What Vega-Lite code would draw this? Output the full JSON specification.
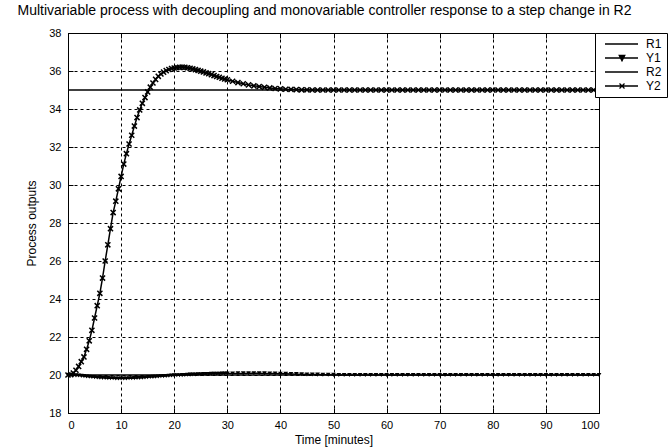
{
 "$schema": "https://vega.github.io/schema/vega-lite/v6.json",
 "width": 531, "height": 380,
 "autosize": {"type": "none"},
 "padding": {"left": 68, "top": 33, "right": 72, "bottom": 34},
 "background": "white",
 "title": {"text": "Multivariable process with decoupling and monovariable controller response to a step change in R2", "font": "Liberation Sans", "fontSize": 14, "fontWeight": "normal", "color": "black", "anchor": "middle", "offset": 9, "dx": -9},
 "config": {
  "view": {"stroke": "black", "strokeWidth": 1},
  "axis": {"domainColor": "black", "grid": true, "gridColor": "black", "gridDash": [3, 3], "gridOpacity": 1, "gridWidth": 1, "tickColor": "black", "tickSize": -5, "labelOverlap": false, "labelFont": "Liberation Sans", "labelFontSize": 11, "labelColor": "black", "titleFont": "Liberation Sans", "titleFontSize": 12, "titleFontWeight": "normal", "titleColor": "black"}
 },
 "resolve": {"axis": {"x": "independent", "y": "independent"}},
 "datasets": {
  "r": [{"t": 0, "s": "R1", "v": 20}, {"t": 100, "s": "R1", "v": 20}, {"t": 0, "s": "R2", "v": 35}, {"t": 100, "s": "R2", "v": 35}],
  "y": [
   {"t": 0, "Y1": 20.0, "Y2": 20.0}, {"t": 0.5, "Y1": 20.0, "Y2": 20.02}, {"t": 1, "Y1": 19.99, "Y2": 20.1}, {"t": 1.5, "Y1": 19.98, "Y2": 20.25},
   {"t": 2, "Y1": 19.97, "Y2": 20.45}, {"t": 2.5, "Y1": 19.955, "Y2": 20.7}, {"t": 3, "Y1": 19.94, "Y2": 20.95}, {"t": 3.5, "Y1": 19.925, "Y2": 21.35},
   {"t": 4, "Y1": 19.91, "Y2": 21.8}, {"t": 4.5, "Y1": 19.895, "Y2": 22.35}, {"t": 5, "Y1": 19.88, "Y2": 23.0}, {"t": 5.5, "Y1": 19.87, "Y2": 23.65},
   {"t": 6, "Y1": 19.86, "Y2": 24.3}, {"t": 6.5, "Y1": 19.85, "Y2": 25.1}, {"t": 7, "Y1": 19.84, "Y2": 26.0}, {"t": 7.5, "Y1": 19.835, "Y2": 26.85},
   {"t": 8, "Y1": 19.83, "Y2": 27.7}, {"t": 8.5, "Y1": 19.825, "Y2": 28.55}, {"t": 9, "Y1": 19.82, "Y2": 29.15}, {"t": 9.5, "Y1": 19.82, "Y2": 29.8},
   {"t": 10, "Y1": 19.82, "Y2": 30.45}, {"t": 10.5, "Y1": 19.82, "Y2": 31.1}, {"t": 11, "Y1": 19.82, "Y2": 31.65}, {"t": 11.5, "Y1": 19.825, "Y2": 32.16},
   {"t": 12, "Y1": 19.83, "Y2": 32.62}, {"t": 12.5, "Y1": 19.835, "Y2": 33.1}, {"t": 13, "Y1": 19.84, "Y2": 33.55}, {"t": 13.5, "Y1": 19.85, "Y2": 33.95},
   {"t": 14, "Y1": 19.86, "Y2": 34.3}, {"t": 14.5, "Y1": 19.87, "Y2": 34.6}, {"t": 15, "Y1": 19.88, "Y2": 34.9}, {"t": 15.5, "Y1": 19.89, "Y2": 35.15},
   {"t": 16, "Y1": 19.9, "Y2": 35.37}, {"t": 16.5, "Y1": 19.91, "Y2": 35.56}, {"t": 17, "Y1": 19.92, "Y2": 35.72}, {"t": 17.5, "Y1": 19.93, "Y2": 35.84},
   {"t": 18, "Y1": 19.94, "Y2": 35.94}, {"t": 18.5, "Y1": 19.95, "Y2": 36.02}, {"t": 19, "Y1": 19.96, "Y2": 36.08}, {"t": 19.5, "Y1": 19.97, "Y2": 36.13},
   {"t": 20, "Y1": 19.98, "Y2": 36.16}, {"t": 20.5, "Y1": 19.985, "Y2": 36.18}, {"t": 21, "Y1": 19.99, "Y2": 36.19}, {"t": 21.5, "Y1": 19.995, "Y2": 36.2},
   {"t": 22, "Y1": 20.0, "Y2": 36.19}, {"t": 22.5, "Y1": 20.01, "Y2": 36.17}, {"t": 23, "Y1": 20.02, "Y2": 36.14}, {"t": 23.5, "Y1": 20.025, "Y2": 36.11},
   {"t": 24, "Y1": 20.03, "Y2": 36.07}, {"t": 24.5, "Y1": 20.035, "Y2": 36.03}, {"t": 25, "Y1": 20.04, "Y2": 35.99}, {"t": 25.5, "Y1": 20.045, "Y2": 35.95},
   {"t": 26, "Y1": 20.05, "Y2": 35.9}, {"t": 26.5, "Y1": 20.055, "Y2": 35.86}, {"t": 27, "Y1": 20.06, "Y2": 35.81}, {"t": 27.5, "Y1": 20.065, "Y2": 35.76},
   {"t": 28, "Y1": 20.07, "Y2": 35.71}, {"t": 28.5, "Y1": 20.07, "Y2": 35.67}, {"t": 29, "Y1": 20.075, "Y2": 35.62}, {"t": 29.5, "Y1": 20.075, "Y2": 35.58},
   {"t": 30, "Y1": 20.08, "Y2": 35.54}, {"t": 31, "Y1": 20.08, "Y2": 35.46}, {"t": 32, "Y1": 20.085, "Y2": 35.39}, {"t": 33, "Y1": 20.085, "Y2": 35.33},
   {"t": 34, "Y1": 20.09, "Y2": 35.27}, {"t": 35, "Y1": 20.09, "Y2": 35.22}, {"t": 36, "Y1": 20.09, "Y2": 35.18}, {"t": 37, "Y1": 20.085, "Y2": 35.14},
   {"t": 38, "Y1": 20.08, "Y2": 35.11}, {"t": 39, "Y1": 20.075, "Y2": 35.08}, {"t": 40, "Y1": 20.07, "Y2": 35.06}, {"t": 41, "Y1": 20.06, "Y2": 35.04},
   {"t": 42, "Y1": 20.05, "Y2": 35.03}, {"t": 43, "Y1": 20.045, "Y2": 35.02}, {"t": 44, "Y1": 20.04, "Y2": 35.01}, {"t": 45, "Y1": 20.03, "Y2": 35.01},
   {"t": 46, "Y1": 20.025, "Y2": 35.0}, {"t": 47, "Y1": 20.02, "Y2": 35.0}, {"t": 48, "Y1": 20.015, "Y2": 35.0}, {"t": 49, "Y1": 20.01, "Y2": 35.0},
   {"t": 50, "Y1": 20.005, "Y2": 35.0}, {"t": 51, "Y1": 20.0, "Y2": 35.0}, {"t": 52, "Y1": 20.0, "Y2": 35.0}, {"t": 53, "Y1": 20.0, "Y2": 35.0},
   {"t": 54, "Y1": 20.0, "Y2": 35.0}, {"t": 55, "Y1": 20.0, "Y2": 35.0}, {"t": 56, "Y1": 20.0, "Y2": 35.0}, {"t": 57, "Y1": 20.0, "Y2": 35.0},
   {"t": 58, "Y1": 20.0, "Y2": 35.0}, {"t": 59, "Y1": 20.0, "Y2": 35.0}, {"t": 60, "Y1": 20.0, "Y2": 35.0}, {"t": 61, "Y1": 20.0, "Y2": 35.0},
   {"t": 62, "Y1": 20.0, "Y2": 35.0}, {"t": 63, "Y1": 20.0, "Y2": 35.0}, {"t": 64, "Y1": 20.0, "Y2": 35.0}, {"t": 65, "Y1": 20.0, "Y2": 35.0},
   {"t": 66, "Y1": 20.0, "Y2": 35.0}, {"t": 67, "Y1": 20.0, "Y2": 35.0}, {"t": 68, "Y1": 20.0, "Y2": 35.0}, {"t": 69, "Y1": 20.0, "Y2": 35.0},
   {"t": 70, "Y1": 20.0, "Y2": 35.0}, {"t": 71, "Y1": 20.0, "Y2": 35.0}, {"t": 72, "Y1": 20.0, "Y2": 35.0}, {"t": 73, "Y1": 20.0, "Y2": 35.0},
   {"t": 74, "Y1": 20.0, "Y2": 35.0}, {"t": 75, "Y1": 20.0, "Y2": 35.0}, {"t": 76, "Y1": 20.0, "Y2": 35.0}, {"t": 77, "Y1": 20.0, "Y2": 35.0},
   {"t": 78, "Y1": 20.0, "Y2": 35.0}, {"t": 79, "Y1": 20.0, "Y2": 35.0}, {"t": 80, "Y1": 20.0, "Y2": 35.0}, {"t": 81, "Y1": 20.0, "Y2": 35.0},
   {"t": 82, "Y1": 20.0, "Y2": 35.0}, {"t": 83, "Y1": 20.0, "Y2": 35.0}, {"t": 84, "Y1": 20.0, "Y2": 35.0}, {"t": 85, "Y1": 20.0, "Y2": 35.0},
   {"t": 86, "Y1": 20.0, "Y2": 35.0}, {"t": 87, "Y1": 20.0, "Y2": 35.0}, {"t": 88, "Y1": 20.0, "Y2": 35.0}, {"t": 89, "Y1": 20.0, "Y2": 35.0},
   {"t": 90, "Y1": 20.0, "Y2": 35.0}, {"t": 91, "Y1": 20.0, "Y2": 35.0}, {"t": 92, "Y1": 20.0, "Y2": 35.0}, {"t": 93, "Y1": 20.0, "Y2": 35.0},
   {"t": 94, "Y1": 20.0, "Y2": 35.0}, {"t": 95, "Y1": 20.0, "Y2": 35.0}, {"t": 96, "Y1": 20.0, "Y2": 35.0}, {"t": 97, "Y1": 20.0, "Y2": 35.0},
   {"t": 98, "Y1": 20.0, "Y2": 35.0}, {"t": 99, "Y1": 20.0, "Y2": 35.0}, {"t": 100, "Y1": 20.0, "Y2": 35.0}
  ]
 },
 "layer": [
  {"data": {"name": "r"}, "mark": {"type": "line", "strokeWidth": 1.3},
   "encoding": {
    "x": {"field": "t", "type": "quantitative", "title": "Time [minutes]", "scale": {"domain": [0, 100], "nice": false, "zero": false},
          "axis": {"values": [0, 10, 20, 30, 40, 50, 60, 70, 80, 90, 100], "labelPadding": 11, "titlePadding": 4}},
    "y": {"field": "v", "type": "quantitative", "title": "Process outputs", "scale": {"domain": [18, 38], "nice": false, "zero": false},
          "axis": {"values": [18, 20, 22, 24, 26, 28, 30, 32, 34, 36, 38], "labelPadding": 12, "titlePadding": 10}},
    "stroke": {"field": "s", "type": "nominal", "scale": {"domain": ["R1", "Y1", "R2", "Y2"], "range": ["black", "black", "black", "black"]},
      "legend": {"title": null, "orient": "none", "legendX": 527, "legendY": 0, "strokeColor": "black", "fillColor": "white", "padding": 5, "rowPadding": 2,
        "labelFont": "Liberation Sans", "labelFontSize": 12, "labelColor": "black", "symbolSize": 100, "symbolStrokeWidth": 1.3, "labelOffset": 34,
        "encode": {"symbols": {"update": {
          "shape": {"signal": "datum.value === 'Y1' ? 'M-0.2,0H6.4M2.65,-0.5L3.75,-0.5L3.2,0.55Z' : datum.value === 'Y2' ? 'M-0.2,0H6.4M2.7,-0.5L3.7,0.5M2.7,0.5L3.7,-0.5' : 'M-0.2,0H6.4'"},
          "fill": {"signal": "datum.value === 'Y1' ? 'black' : 'transparent'"},
          "stroke": {"value": "black"}}}}}}
   }},
  {"data": {"name": "r"}, "mark": {"type": "line", "opacity": 0},
   "encoding": {
    "x": {"field": "t", "type": "quantitative", "axis": {"orient": "top", "values": [0, 10, 20, 30, 40, 50, 60, 70, 80, 90, 100], "labels": false, "grid": false, "title": null, "domain": false}},
    "y": {"field": "v", "type": "quantitative", "axis": {"orient": "right", "values": [18, 20, 22, 24, 26, 28, 30, 32, 34, 36, 38], "labels": false, "grid": false, "title": null, "domain": false}},
    "detail": {"field": "s"}
   }},
  {"data": {"name": "y"}, "transform": [{"fold": ["Y1", "Y2"], "as": ["s", "v"]}], "mark": {"type": "line", "strokeWidth": 1.5},
   "encoding": {
    "x": {"field": "t", "type": "quantitative", "axis": null},
    "y": {"field": "v", "type": "quantitative", "axis": null},
    "stroke": {"field": "s", "type": "nominal", "scale": {"domain": ["R1", "Y1", "R2", "Y2"], "range": ["black", "black", "black", "black"]}}
   }},
  {"data": {"name": "y"}, "mark": {"type": "point", "shape": "triangle-down", "filled": true, "color": "black", "size": 22, "opacity": 1},
   "encoding": {"x": {"field": "t", "type": "quantitative", "axis": null}, "y": {"field": "Y1", "type": "quantitative", "axis": null}}},
  {"data": {"name": "y"}, "mark": {"type": "point", "shape": "M-1,-1L1,1M-1,1L1,-1", "filled": false, "color": "black", "strokeWidth": 1.5, "size": 26, "opacity": 1},
   "encoding": {"x": {"field": "t", "type": "quantitative", "axis": null}, "y": {"field": "Y2", "type": "quantitative", "axis": null}}}
 ]
}
